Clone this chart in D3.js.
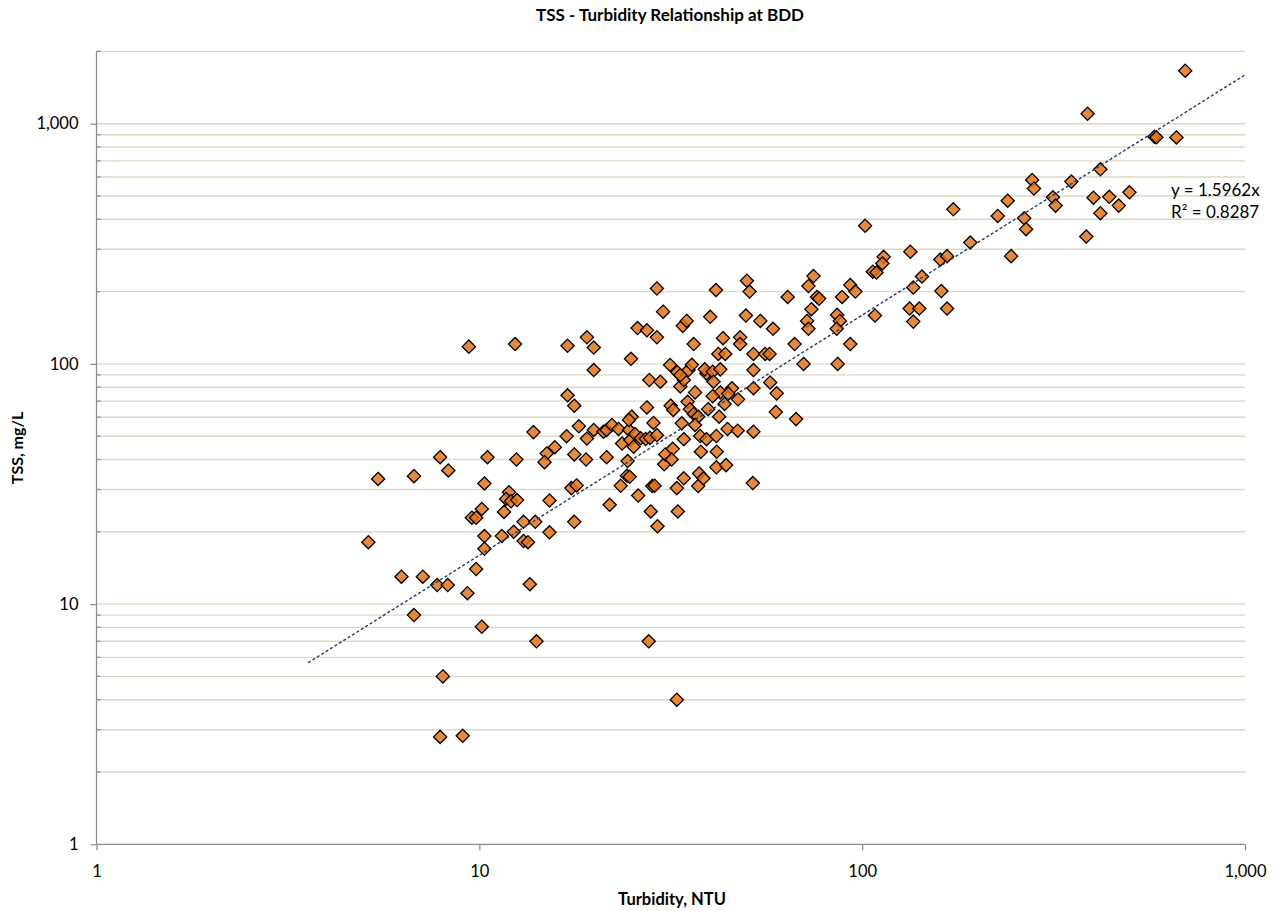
<!DOCTYPE html>
<html><head><meta charset="utf-8">
<script src="https://cdn.jsdelivr.net/npm/d3@7"></script>
<style>
body{margin:0;background:#fff}
svg{display:block}
text{font-family:Lato,"Noto Sans",sans-serif;fill:#000}
</style>
</head><body>
<svg id="chart" width="1280" height="911"></svg>
<script>
// ---------- data ----------
const chartTitle = "TSS - Turbidity Relationship at BDD";
const xTitle = "Turbidity, NTU";
const yTitle = "TSS, mg/L";
const xTickValues = [1, 10, 100, 1000];
const yTickValues = [1, 10, 100, 1000];
const xDomain = [1, 1000];
const yDomain = [1, 2000];
const trendSlope = 1.5962;
const trendR2 = 0.8287;
const trendXRange = [3.57, 1000];
const equationLines = ["y = 1.5962x", "R\u00B2 = 0.8287"];

// Turbidity (NTU) and TSS (mg/L) sample pairs, same order in both arrays
const turbidity = [
  5.13,5.44,6.26,6.75,6.75,7.12,7.76,7.9,8.27,8.3,8.03,7.9,9.05,9.31,9.39,9.56,9.81,9.81,10.15,10.31,10.15,10.31,10.31,10.5,
  12.4,17.0,17.0,17.7,18.2,13.85,16.9,15.75,15.0,14.8,17.7,12.5,17.4,17.95,11.95,11.75,12.1,12.55,11.6,13.05,14.0,17.7,15.25,11.45,12.3,13.05,13.4,15.25,
  13.55,14.1,27.7,32.8,
  19.1,19.9,21.1,21.5,22.2,23.1,24.6,23.6,24.8,25.3,25.5,26.4,27.2,27.9,29.1,25.0,24.6,28.5,27.4,19.0,21.5,24.4,24.3,24.7,23.4,26.0,28.3,28.7,21.9,28.05,29.2,19.9,19.9,19.1,24.9,25.9,27.4,29.1,29.1,27.8,29.7,30.2,
  41.5,50.0,50.8,34.0,34.8,40.1,49.7,54.2,58.5,63.9,74.6,72.4,76.2,77.2,73.7,71.8,72.4,88.6,93.1,96,86,87.4,85.8,93.1,86.3,66.6,70.3,52,55.8,57.3,48,48,43.3,36.3,42.1,43.9,
  31.5,32.9,35.2,35.9,33.5,34.2,39.2,38.8,40.7,42.6,40.9,42.6,45.7,44.7,47.4,43.7,36.6,31.6,32.1,35.0,35.5,36.3,37.3,36.6,33.8,34.2,39.6,42.3,52.0,52.0,57.5,59.8,59.5,67.2,
  37.75,39.2,41.6,44.5,47.3,52.0,37.9,41.7,41.6,44.1,30.4,30.6,32.0,31.8,34.2,37.3,37.5,38.5,51.8,32.8,33.0,33.5,40.7,
  101.8,113.8,112.9,106.6,109,133.6,160,166.6,191.6,173,136,143.3,161,166.6,133,141,136,108,226,240,265,268,245,278,281,315,320,352,698,388,580,587,662,419,402,442,468,499,419,385
];
const tss = [
  18.1,33.2,13.0,34.1,9.0,13.0,12.0,40.9,12.0,36.0,5.0,2.8,2.83,11.1,118,22.9,22.9,14.0,8.05,31.8,24.9,19.2,17.0,40.9,
  121,119,74,67,55,52,50,45,42.4,39,42,40,30.4,31.2,29.2,27.4,26.8,27.1,24.2,22,22,22,27,19.2,20,18.3,18.1,19.9,
  12.1,7.0,7.0,4.0,
  48.9,53.1,52.2,53.1,55.7,53.6,53.1,46.6,48.2,45.2,51.1,49.0,48.7,49.2,50.5,60.3,58.4,56.8,65.9,40.0,40.9,39.4,34.2,33.9,31.1,28.3,31.0,31.1,25.9,24.3,21.1,94.3,117,129,105,141,138,129,206,85.7,84.3,165,
  203,222,200,144,151,157,159,151,140,190,232,211,190,187,169,151,140,190,213,200,160,151,140,121,100,121,100,110,110,110,129,121,128,121,110,110,
  99,92.3,94.3,99.1,80.6,85.7,91.3,94.9,92.8,94.9,84.3,76.1,79.1,75.2,71.2,68.1,76.1,67.0,64.3,69.5,64.8,61.9,60.3,55.7,56.6,48.6,64.8,60.3,94.3,79.2,83.7,75.4,63.0,58.9,
  50.1,48.6,50.1,53.6,52.7,52.2,43.1,43.1,37.1,37.9,38.2,42.0,44.3,40.0,33.4,31.0,35.0,33.4,31.9,30.4,24.3,89.8,73.4,
  376,279,262,242,240,293,272,281,320,440,208,231,201,170,170,170,150,159,413,478,404,364,281,583,537,494,456,574,1662,1100,883,878,877,646,492,496,456,518,424,339
];

// ---------- layout ----------
const plot = {left: 96.5, right: 1245, top: 51.4, bottom: 844.3};
const svg = d3.select("#chart");
const x = d3.scaleLog().domain(xDomain).range([plot.left, plot.right]);
const y = d3.scaleLog().domain(yDomain).range([plot.bottom, plot.top]);

// horizontal gridlines at every 1..9 x 10^k up to the top of the domain
const gridValues = [];
[1, 10, 100, 1000].forEach(dec => {
  for (let m = 1; m <= 9; m++) {
    const v = m * dec;
    if (v > yDomain[0] && v <= yDomain[1]) gridValues.push(v);
  }
});
const minorValues = gridValues.filter(v => !yTickValues.includes(v));

svg.append("g").selectAll("line").data(gridValues).join("line")
  .attr("x1", plot.left).attr("x2", plot.right)
  .attr("y1", d => y(d)).attr("y2", d => y(d))
  .attr("stroke", "#dcd8c3").attr("stroke-width", 1.4);

const axisColor = "#8a8a8a";

// y axis
const gy = svg.append("g").attr("transform", `translate(${plot.left},0)`)
  .call(d3.axisLeft(y).tickValues(yTickValues).tickFormat(d3.format(",")).tickSize(6).tickPadding(12));
gy.select(".domain").remove();
gy.selectAll(".tick line").attr("stroke", axisColor).attr("stroke-width", 1.2);
gy.selectAll(".tick text").attr("font-size", 16.5).attr("font-family", "Lato");
svg.append("g").selectAll("line").data(minorValues.concat([yDomain[1]])).join("line")
  .attr("x1", plot.left).attr("x2", plot.left + 4)
  .attr("y1", d => y(d)).attr("y2", d => y(d))
  .attr("stroke", axisColor).attr("stroke-width", 1.2);
svg.append("line").attr("x1", plot.left).attr("x2", plot.left)
  .attr("y1", y(yDomain[1])).attr("y2", plot.bottom)
  .attr("stroke", axisColor).attr("stroke-width", 1.3);

// x axis
const gx = svg.append("g").attr("transform", `translate(0,${plot.bottom})`)
  .call(d3.axisBottom(x).tickValues(xTickValues).tickFormat(d3.format(",")).tickSize(6).tickPadding(15));
gx.select(".domain").remove();
gx.selectAll(".tick line").attr("stroke", axisColor).attr("stroke-width", 1.2);
gx.selectAll(".tick text").attr("font-size", 16.5).attr("font-family", "Lato");
svg.append("line").attr("x1", plot.left).attr("x2", plot.right)
  .attr("y1", plot.bottom).attr("y2", plot.bottom)
  .attr("stroke", axisColor).attr("stroke-width", 1.3);

// points
const pts = turbidity.map((t, i) => ({t, s: tss[i]}));
const r = 6.6;
const diamond = `M0,${-r}L${r},0L0,${r}L${-r},0Z`;
svg.append("g").selectAll("path").data(pts).join("path")
  .attr("d", diamond)
  .attr("transform", d => `translate(${x(d.t)},${y(d.s)})`)
  .attr("fill", "#e57212").attr("fill-opacity", 0.84)
  .attr("stroke", "#000").attr("stroke-width", 1.3)
  .attr("stroke-linejoin", "miter");

// trendline y = slope * x
const trendPts = trendXRange.map(v => [x(v), y(trendSlope * v)]);
svg.append("path").attr("d", d3.line()(trendPts))
  .attr("fill", "none").attr("stroke", "#1f3a6e").attr("stroke-width", 1.4)
  .attr("stroke-dasharray", "3,2.2");

// equation
svg.append("g").selectAll("text").data(equationLines).join("text")
  .attr("x", 1171).attr("y", (d, i) => 196 + i * 22)
  .attr("font-size", 17).text(d => d);

// titles
svg.append("text").attr("x", 670).attr("y", 21).attr("text-anchor", "middle")
  .attr("font-size", 17).attr("font-weight", "bold").text(chartTitle);
svg.append("text").attr("x", 672).attr("y", 905).attr("text-anchor", "middle")
  .attr("font-size", 16.5).attr("font-weight", "bold").text(xTitle);
svg.append("text").attr("transform", "translate(23,448) rotate(-90)")
  .attr("text-anchor", "middle")
  .attr("font-size", 16).attr("font-weight", "bold").text(yTitle);
</script>
</body></html>
